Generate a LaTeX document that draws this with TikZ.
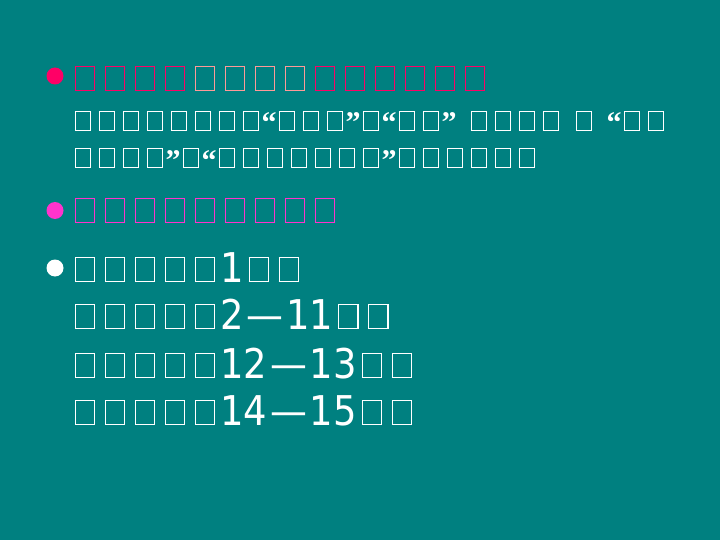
\documentclass[tikz,border=0pt]{standalone}
\usepackage{fontspec}
\setmainfont{Liberation Sans}
\newfontfamily\quotefont{Liberation Serif}
\newfontfamily\numfont{DejaVu Sans Condensed}
\usetikzlibrary{positioning}
\definecolor{slideteal}{HTML}{008080}
\definecolor{titlered}{HTML}{FF0066}
\definecolor{titlesalmon}{HTML}{FF9999}
\definecolor{topicpink}{HTML}{FF33CC}
% an empty box standing for a glyph the font lacks
\newcommand*{\tofu}{\hbox to 1em{\hss\vbox{\hrule height .035em
  \hbox{\vrule width .035em height .76em \kern .6em\vrule width .035em}%
  \hrule height .035em}\hss}}
\newcommand*{\tofus}[1]{\foreach \k in {1,...,#1}{\tofu}}
\newcommand*{\oqt}{\makebox[12pt][c]{\quotefont\bfseries\fontsize{30pt}{30pt}\selectfont\raisebox{-2pt}{“}}}
\newcommand*{\cqt}{\makebox[12pt][c]{\quotefont\bfseries\fontsize{30pt}{30pt}\selectfont\raisebox{-2pt}{”}}}
\newcommand*{\bignum}[1]{{\numfont\fontsize{41pt}{41pt}\selectfont #1}}
\newcommand*{\numdash}{\kern3pt—\kern3pt}

\begin{document}
\begin{tikzpicture}[x=1pt,y=-1pt,%
  % common options for the lines of text:
  line/.style = {anchor=base west, inner sep=0, text=white},
  big/.style = {font=\fontsize{30pt}{30pt}\selectfont},
  small/.style = {font=\fontsize{24pt}{24pt}\selectfont},
  % common options for the bullets:
  dot/.style = {circle, inner sep=0, minimum size=17pt}]

% slide background
\fill[slideteal] (0,0) rectangle (720,540);
\useasboundingbox (0,0) rectangle (720,540);

% first bullet: title and two lines below it
\node[dot,fill=titlered] (dot1) at (55,76) {};
\node[line,big] (title) at (70,91)
  {\textcolor{titlered}{\tofus{4}}\textcolor{titlesalmon}{\tofus{4}}%
   \textcolor{titlered}{\tofus{6}}};
\node[line,small] (lineA) at (71,131)
  {\tofus{8}\oqt\tofus{3}\cqt\tofu\oqt\tofus{2}\cqt\hspace{12pt}%
   \tofus{4}\hspace{9pt}\tofu\hspace{12pt}\oqt\tofus{2}};
\node[line,small] (lineB) at (71,168)
  {\tofus{4}\cqt\tofu\oqt\tofus{7}\cqt\tofus{6}};

% second bullet
\node[dot,fill=topicpink] (dot2) at (55,210.5) {};
\node[line,big,text=topicpink] (topic) at (70,223) {\tofus{9}};

% third bullet: the four parts
\node[dot,fill=white] (dot3) at (55,268) {};
\node[line,big] (part1) at (70,282) {\tofus{5}\bignum{1}\tofus{2}};
\node[line,big] (part2) at (70,329) {\tofus{5}\bignum{2\numdash 11}\tofus{2}};
\node[line,big] (part3) at (70,378) {\tofus{5}\bignum{12\numdash 13}\tofus{2}};
\node[line,big] (part4) at (70,425) {\tofus{5}\bignum{14\numdash 15}\tofus{2}};
\end{tikzpicture}
\end{document}
